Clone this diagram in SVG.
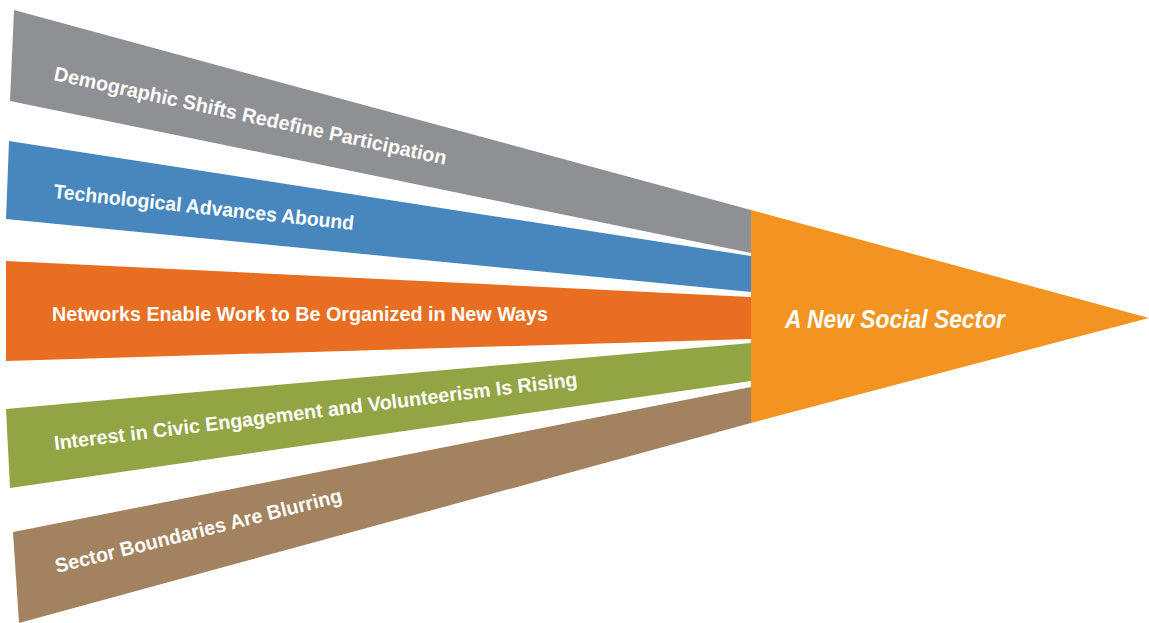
<svg xmlns="http://www.w3.org/2000/svg" width="1149" height="623" viewBox="0 0 1149 623">
<style>
.lbl{font-family:"Liberation Sans",Arial,sans-serif;font-weight:bold;font-size:20px;fill:#fff}
.ttl{font-family:"Liberation Sans",Arial,sans-serif;font-weight:bold;font-style:italic;font-size:26px;fill:#fff}
</style>
<rect width="1149" height="623" fill="#fff"/>
<g id="connectors">
<g id="band-demographic">
<polygon points="14,10 751,210 751,253 10,101" fill="#8f9094"/>
<text class="lbl" x="53" y="80" textLength="401" lengthAdjust="spacingAndGlyphs" transform="rotate(12.2 53 80)">Demographic Shifts Redefine Participation</text>
</g>
<g id="band-technology">
<polygon points="9,141 751,256 751,292 6,219" fill="#4787be"/>
<text class="lbl" x="53" y="198" textLength="302" lengthAdjust="spacingAndGlyphs" transform="rotate(6.1 53 198)">Technological Advances Abound</text>
</g>
<g id="band-networks">
<polygon points="6,261 751,297 751,339 6,361" fill="#e86e22"/>
<text class="lbl" x="52" y="321" textLength="496" lengthAdjust="spacingAndGlyphs">Networks Enable Work to Be Organized in New Ways</text>
</g>
<g id="band-civic">
<polygon points="6,409 751,343 751,381 10,488" fill="#93a445"/>
<text class="lbl" x="55" y="450" textLength="527" lengthAdjust="spacingAndGlyphs" transform="rotate(-7 55 450)">Interest in Civic Engagement and Volunteerism Is Rising</text>
</g>
<g id="band-boundaries">
<polygon points="13,532 751,387 751,423 19,623" fill="#a38260"/>
<text class="lbl" x="57" y="573" textLength="295" lengthAdjust="spacingAndGlyphs" transform="rotate(-14 57 573)">Sector Boundaries Are Blurring</text>
</g>
</g>
<g id="node-new-social-sector">
<polygon points="751,210 1149,318 751,423" fill="#f39422"/>
<text class="ttl" x="785" y="328" textLength="220" lengthAdjust="spacingAndGlyphs">A New Social Sector</text>
</g>
</svg>
